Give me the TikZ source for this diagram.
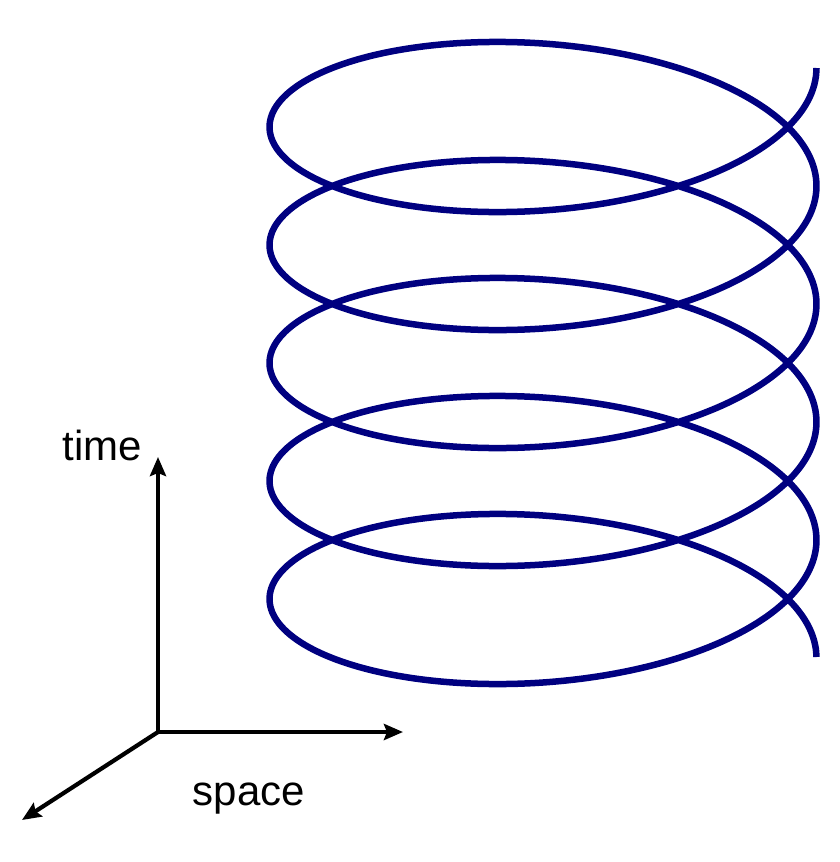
\documentclass[tikz,border=0pt]{standalone}
\usepackage{fontspec}
\setmainfont{Liberation Sans}
\usetikzlibrary{arrows.meta}
\definecolor{helixblue}{RGB}{0,0,128}
\tikzstyle{helix} = [
    line width=6.5pt,
    draw=helixblue
]
\tikzstyle{axis} = [
    line width=4.2pt,
    -{Stealth[length=19pt, width=16pt, inset=3pt]}
]
\tikzstyle{label} = [
    font=\fontsize{42}{48}\selectfont,
    anchor=base, inner sep=0pt
]

\begin{document}
\begin{tikzpicture}[x=1pt, y=-1pt]
        \useasboundingbox (0,0) rectangle (840,862);
        % Draw helix (five turns)
        \draw [helix] plot [domain=0:31.4159, samples=500, variable=\t, smooth]
            ({543+273.5*cos(\t r)}, {68+118*\t/6.28318+113*sin(\t r)});

        % Draw axes
        \coordinate (origin) at (158,732);
        \coordinate (timetip) at (158,457);
        \coordinate (spacetip) at (403,732);
        \coordinate (depthtip) at (22,820);
        \node (time) [label] at (102,460) {time};
        \node (space) [label] at (249,805) {space};
        \draw [axis] (origin) -- (timetip);
        \draw [axis] (origin) -- (spacetip);
        \draw [axis] (origin) -- (depthtip);
    \end{tikzpicture}
\end{document}
